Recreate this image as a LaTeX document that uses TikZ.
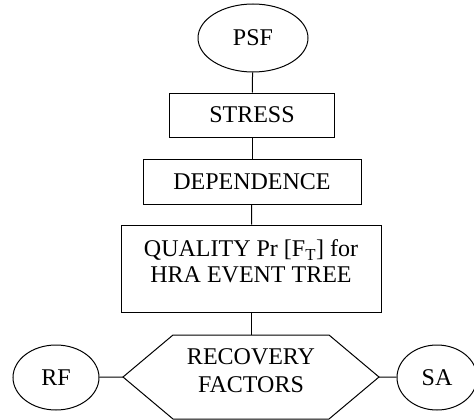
\documentclass[tikz,border=0pt]{standalone}
\usepackage{fontspec}
\setmainfont{Liberation Serif}
\usetikzlibrary{shapes.geometric}
\begin{document}
\begin{tikzpicture}[x=1pt,y=-1pt,
  every node/.style={font=\fontsize{24}{28}\selectfont, inner sep=0pt, align=center},
  ell/.style={draw, ellipse, line width=1pt},
  stepbox/.style={draw, rectangle, line width=1pt},
  conn/.style={line width=1pt}]
\useasboundingbox (0,0) rectangle (474,420);
\node[ell, minimum width=110, minimum height=68] (psf) at (253,38) {PSF};
\node[stepbox, minimum width=165, minimum height=44] (stress) at (252,115) {STRESS};
\node[stepbox, minimum width=218, minimum height=45] (dep) at (252,181.5) {DEPENDENCE};
\node[stepbox, minimum width=260, minimum height=87] (qual) at (251,268.5) {};
\node[font=\fontsize{24}{26}\selectfont] (qualtext) at (251,261) {QUALITY Pr [F$_{\mathrm{T}}$] for\\HRA EVENT TREE};
\coordinate (hexW) at (123,377);
\coordinate (hexE) at (379,377);
\coordinate (hexN) at (251,335);
\draw[conn] (hexW) -- (173,335) -- (hexN) -- (329,335) -- (hexE) -- (329,419) -- (173,419) -- cycle;
\node (rec) at (251,371) {RECOVERY\\FACTORS};
\node[ell, minimum width=86, minimum height=65] (rf) at (56,377.5) {RF};
\node[ell, minimum width=80, minimum height=65] (sa) at (437,377.5) {SA};
\draw[conn] (psf) -- (stress);
\draw[conn] (stress) -- (dep);
\draw[conn] (dep) -- (qual);
\draw[conn] (qual) -- (hexN);
\draw[conn] (rf) -- (hexW);
\draw[conn] (hexE) -- (sa);
\end{tikzpicture}
\end{document}
